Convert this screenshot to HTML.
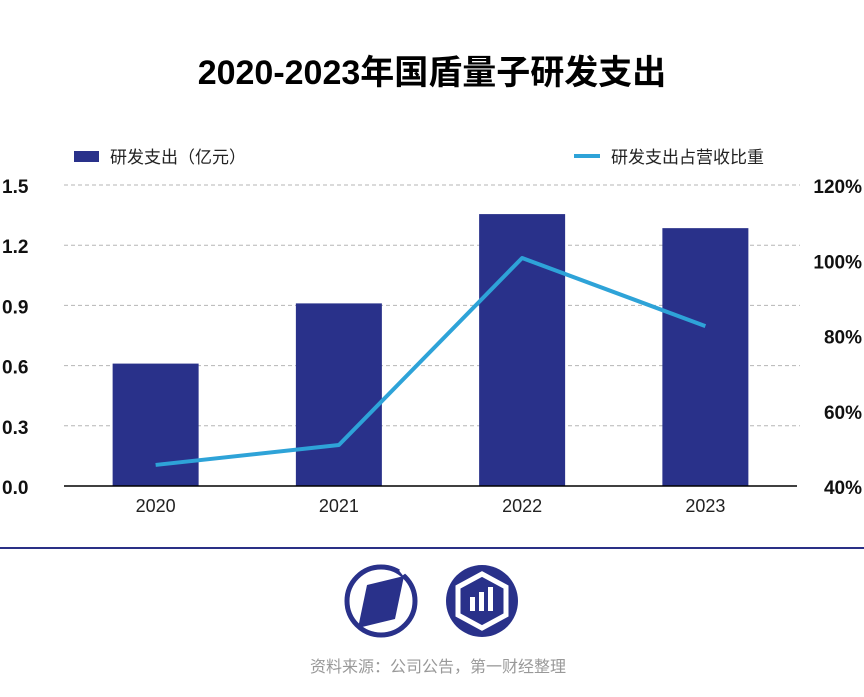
<!DOCTYPE html>
<html><head><meta charset="utf-8">
<style>
body{margin:0;width:864px;height:692px;background:#fff;overflow:hidden;font-family:"Liberation Sans","Noto Sans CJK SC",sans-serif;}
</style></head>
<body>
<svg id="chart" width="864" height="692" xmlns="http://www.w3.org/2000/svg">
<text x="432" y="84" text-anchor="middle" font-size="34" font-weight="bold" fill="#000" font-family="Liberation Sans,Noto Sans CJK SC,sans-serif">2020-2023年国盾量子研发支出</text>
<g>
<rect x="74" y="151" width="25" height="11" fill="#29318a"></rect>
<text x="110" y="163" font-size="17" fill="#222">研发支出（亿元）</text>
</g>
<g>
<line x1="574" y1="156" x2="600" y2="156" stroke="#2ea3d8" stroke-width="4"></line>
<text x="611" y="163" font-size="17" fill="#222">研发支出占营收比重</text>
</g>
<g id="grid"></g><g id="bars"></g><g id="line"></g><g id="axes"></g>
<line x1="0" y1="548" x2="864" y2="548" stroke="#2a3086" stroke-width="2"></line>
<g>
<circle cx="381" cy="601" r="34" fill="none" stroke="#29318a" stroke-width="5"></circle>
<line x1="401" y1="573" x2="410" y2="566" stroke="#fff" stroke-width="6"></line>
<line x1="352" y1="630" x2="359" y2="636" stroke="#fff" stroke-width="6"></line>
<polygon points="367,585 404,576 395,619 358,628" fill="#29318a"></polygon>
</g>
<g>
<circle cx="482" cy="601" r="36" fill="#29318a"></circle>
<polygon points="482,574 506,587 506,615 482,628 458,615 458,587" fill="none" stroke="#fff" stroke-width="5"></polygon>
<rect x="470" y="597" width="5" height="14" fill="#fff"></rect>
<rect x="479" y="592" width="5" height="19" fill="#fff"></rect>
<rect x="488" y="587" width="5" height="24" fill="#fff"></rect>
</g>
<text x="438" y="672" text-anchor="middle" font-size="16" fill="#999">资料来源：公司公告，第一财经整理</text>
</svg>
<script>
const categories=["2020","2021","2022","2023"];
const spend=[0.61,0.91,1.355,1.285];
const ratio=[45.6,50.9,100.6,82.5];
const leftTicks=[0,0.3,0.6,0.9,1.2,1.5];
const leftLabels=["0.0","0.3","0.6","0.9","1.2","1.5"];
const rightTicks=[40,60,80,100,120];
const rightLabels=["40%","60%","80%","100%","120%"];
const NS="http://www.w3.org/2000/svg";
const X0=64,X1=797,Y0=486,Y1=185;
const band=(X1-X0)/categories.length;
const xc=i=>X0+band*(i+0.5);
const yL=v=>Y0-(v/1.5)*(Y0-Y1);
const yR=v=>Y0-((v-40)/80)*(Y0-Y1);
function mk(tag,a,parent){const e=document.createElementNS(NS,tag);for(const k in a)e.setAttribute(k,a[k]);document.getElementById(parent).appendChild(e);return e;}
leftTicks.forEach((t,i)=>{
 if(i>0){const g=mk('line',{x1:X0,x2:800,y1:yL(t),y2:yL(t),stroke:'#b5b5b5','stroke-dasharray':'4,3'},'grid');
 
 }
 const tx=mk('text',{x:2,y:yL(t)+8,'font-size':19,'font-weight':'bold',fill:'#111'},'axes');tx.textContent=leftLabels[i];
 
 
});
rightTicks.forEach((t,i)=>{
 const tx=mk('text',{x:862,y:yR(t)+8,'font-size':19,'font-weight':'bold',fill:'#111','text-anchor':'end'},'axes');tx.textContent=rightLabels[i];
 
 
});
const ax=mk('line',{x1:X0,x2:X1,y1:Y0,y2:Y0,stroke:'#000','stroke-width':1.5},'axes');


categories.forEach((c,i)=>{
 const b=mk('rect',{x:xc(i)-43,width:86,y:yL(spend[i]),height:Y0-yL(spend[i]),fill:'#29318a'},'bars');
 
 
 const tx=mk('text',{x:xc(i),y:512,'font-size':18,fill:'#222','text-anchor':'middle'},'axes');tx.textContent=c;
 
 
});
const pl=mk('polyline',{points:ratio.map((v,i)=>xc(i)+','+yR(v)).join(' '),fill:'none',stroke:'#2ea3d8','stroke-width':4,'stroke-linejoin':'round'},'line');


</script>
</body></html>
